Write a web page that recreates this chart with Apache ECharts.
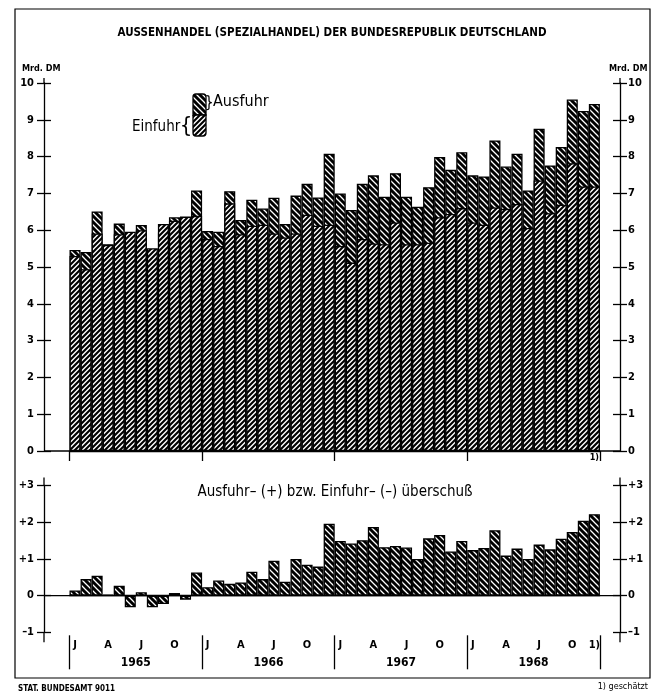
<!DOCTYPE html>
<html><head><meta charset="utf-8">
<script src="https://cdn.jsdelivr.net/npm/echarts@6/dist/echarts.min.js"></script>
<style>html,body{margin:0;padding:0;background:#fff}#c{width:662px;height:697px}</style>
</head><body><div id="c"></div>
<script>
// ---- data (Mrd. DM) ----
const years = ['1965', '1966', '1967', '1968'];
const monthLetters = ['J', 'F', 'M', 'A', 'M', 'J', 'J', 'A', 'S', 'O', 'N', 'D'];
const upperTicks = [0, 1, 2, 3, 4, 5, 6, 7, 8, 9, 10];
const lowerTicks = [-1, 0, 1, 2, 3];

const ausfuhr1965 = [5.46, 5.41, 6.51, 5.62, 6.18, 5.64, 6.14, 5.19, 5.94, 6.35, 6.26, 7.08];
const ausfuhr1966 = [5.98, 5.96, 7.06, 6.28, 6.83, 6.59, 6.88, 6.17, 6.94, 7.26, 6.89, 8.08];
const ausfuhr1967 = [7.00, 6.55, 7.26, 7.49, 6.91, 7.55, 6.91, 6.64, 7.17, 7.99, 7.64, 8.12];
const ausfuhr1968 = [7.49, 7.46, 8.44, 7.73, 8.08, 7.08, 8.76, 7.76, 8.26, 9.55, 9.24, 9.43];

const einfuhr1965 = [5.30, 4.94, 5.91, 5.60, 5.89, 5.96, 6.00, 5.51, 6.17, 6.26, 6.37, 6.39];
const einfuhr1966 = [5.76, 5.57, 6.73, 5.89, 6.12, 6.15, 5.91, 5.80, 5.91, 6.42, 6.12, 6.15];
const einfuhr1967 = [5.57, 5.12, 5.76, 5.64, 5.62, 6.21, 5.62, 5.62, 5.66, 6.35, 6.44, 6.60];
const einfuhr1968 = [6.21, 6.15, 6.62, 6.58, 6.71, 6.06, 7.35, 6.46, 6.69, 7.82, 7.19, 7.19];

const saldo1965 = [0.14, 0.45, 0.54, 0.02, 0.27, -0.32, 0.09, -0.32, -0.23, 0.07, -0.11, 0.63];
const saldo1966 = [0.23, 0.41, 0.32, 0.36, 0.65, 0.45, 0.95, 0.38, 1.00, 0.84, 0.79, 1.96];
const saldo1967 = [1.49, 1.42, 1.51, 1.87, 1.32, 1.35, 1.31, 1.00, 1.56, 1.65, 1.20, 1.49];
const saldo1968 = [1.24, 1.30, 1.78, 1.09, 1.28, 1.00, 1.39, 1.26, 1.55, 1.73, 2.04, 2.22];

// ---- derived ----
const categories = [];
years.forEach(y => monthLetters.forEach((m, i) => categories.push(y + '-' + (i + 1))));
const ausfuhr = [].concat(ausfuhr1965, ausfuhr1966, ausfuhr1967, ausfuhr1968);
const einfuhr = [].concat(einfuhr1965, einfuhr1966, einfuhr1967, einfuhr1968);
const saldo = [].concat(saldo1965, saldo1966, saldo1967, saldo1968);

const FONT = "'DejaVu Sans Condensed','DejaVu Sans',sans-serif";

function makePattern(bg, fg, dir, w, s) {
  const c = document.createElement('canvas'); c.width = c.height = s;
  const g = c.getContext('2d');
  g.fillStyle = bg; g.fillRect(0, 0, s, s);
  g.strokeStyle = fg; g.lineWidth = w; g.beginPath();
  if (dir === '/') {
    g.moveTo(0, s); g.lineTo(s, 0);
    g.moveTo(-s / 2, s / 2); g.lineTo(s / 2, -s / 2);
    g.moveTo(s / 2, s * 1.5); g.lineTo(s * 1.5, s / 2);
  } else {
    g.moveTo(0, 0); g.lineTo(s, s);
    g.moveTo(-s / 2, s / 2); g.lineTo(s / 2, s * 1.5);
    g.moveTo(s / 2, -s / 2); g.lineTo(s * 1.5, s / 2);
  }
  g.stroke();
  return { image: c, repeat: 'repeat' };
}
const lightPat = makePattern('#fff', '#000', '/', 2.1, 5);
const darkPat = makePattern('#000', '#fff', '\\', 1.3, 6);

// layout
const AX_L = 44, AX_R = 620, G_L = 69.5, G_R = 662 - 599.9;
const lineSt = { color: '#000', width: 1.3 };

function yAxes(grid, min, max, fmt) {
  const lab = { show: true, color: '#000', fontFamily: FONT, fontWeight: 'bold', fontSize: 11, formatter: fmt };
  const base = { type: 'value', gridIndex: grid, min: min, max: max, interval: 1, splitLine: { show: false } };
  return [
    Object.assign({}, base, { position: 'left', offset: G_L - AX_L, axisLine: { show: true, onZero: false, lineStyle: lineSt },
      axisTick: { show: true, length: 7, lineStyle: lineSt }, axisLabel: Object.assign({ margin: 10 }, lab) }),
    Object.assign({}, base, { position: 'left', offset: G_L - AX_L, axisLine: { show: false, onZero: false },
      axisTick: { show: true, inside: true, length: 7, lineStyle: lineSt }, axisLabel: { show: false } }),
    Object.assign({}, base, { position: 'right', offset: AX_R - (662 - G_R), axisLine: { show: true, onZero: false, lineStyle: lineSt },
      axisTick: { show: true, length: 7, lineStyle: lineSt }, axisLabel: Object.assign({ margin: 8 }, lab) }),
    Object.assign({}, base, { position: 'right', offset: AX_R - (662 - G_R), axisLine: { show: false, onZero: false },
      axisTick: { show: true, inside: true, length: 7, lineStyle: lineSt }, axisLabel: { show: false } })
  ];
}
const fmtLower = v => v > 0 ? '+' + v : (v < 0 ? '\u2013' + Math.abs(v) : '0');

const chart = echarts.init(document.getElementById('c'), null, { renderer: 'canvas' });
chart.setOption({
  animation: false,
  backgroundColor: '#fff',
  grid: [
    { left: G_L, right: G_R, top: 83, bottom: 697 - 451 },
    { left: G_L, right: G_R, top: 485.5, bottom: 697 - 632.3 }
  ],
  xAxis: [
    { type: 'category', gridIndex: 0, data: categories, boundaryGap: true,
      axisLine: { show: true, lineStyle: lineSt }, axisTick: { show: false },
      axisLabel: { show: true, interval: (i) => i === 47, formatter: () => '1)', margin: 2,
        color: '#000', fontFamily: FONT, fontSize: 9, fontWeight: 'bold' } },
    { type: 'category', gridIndex: 0, data: years, position: 'bottom', boundaryGap: true,
      axisLine: { show: false }, axisTick: { show: true, length: 10, lineStyle: lineSt, interval: 0 }, axisLabel: { show: false } },
    { type: 'category', gridIndex: 1, data: categories, boundaryGap: true,
      axisLine: { show: true, onZero: true, lineStyle: lineSt }, axisTick: { show: false }, axisLabel: { show: false } },
    { type: 'category', gridIndex: 1, data: categories, position: 'bottom', boundaryGap: true,
      axisLine: { show: false, onZero: false }, axisTick: { show: false },
      axisLabel: { show: true, interval: (i) => (i % 3 === 0) || i === 47, margin: 7,
        formatter: (v, i) => i === 47 ? '1)' : monthLetters[i % 12],
        color: '#000', fontFamily: FONT, fontSize: 11, fontWeight: 'bold' } },
    { type: 'category', gridIndex: 1, data: years, position: 'bottom', boundaryGap: true, offset: 3,
      axisLine: { show: false, onZero: false }, axisTick: { show: true, length: 34, interval: 0, lineStyle: lineSt },
      axisLabel: { show: true, margin: 22, color: '#000', fontFamily: FONT, fontSize: 12, fontWeight: 'bold' } }
  ],
  yAxis: [].concat(yAxes(0, 0, 10, v => String(v)), yAxes(1, -1, 3, fmtLower)),
  series: [
    { type: 'bar', name: 'Ausfuhr', xAxisIndex: 0, yAxisIndex: 0, data: ausfuhr, z: 2,
      barCategoryGap: '0%', barGap: '-100%',
      itemStyle: { color: darkPat, borderColor: '#000', borderWidth: 1.3 } },
    { type: 'bar', name: 'Einfuhr', xAxisIndex: 0, yAxisIndex: 0, data: einfuhr, z: 3,
      barCategoryGap: '0%', barGap: '-100%',
      itemStyle: { color: lightPat, borderColor: '#000', borderWidth: 1.3 } },
    { type: 'bar', name: 'Saldo', xAxisIndex: 2, yAxisIndex: 4, data: saldo, z: 2,
      barCategoryGap: '0%',
      itemStyle: { color: darkPat, borderColor: '#000', borderWidth: 1.3 } }
  ]
});

const y0u = chart.convertToPixel({ yAxisIndex: 0 }, 0);
const y10u = chart.convertToPixel({ yAxisIndex: 0 }, 10);
const y0l = chart.convertToPixel({ yAxisIndex: 4 }, 0);
const y3l = chart.convertToPixel({ yAxisIndex: 4 }, 3);
const ym1l = chart.convertToPixel({ yAxisIndex: 4 }, -1);

const ln = (x1, y1, x2, y2) => ({ type: 'line', shape: { x1, y1, x2, y2 }, style: { stroke: '#000', lineWidth: 1.3 }, z: 10 });
const tx = (x, y, text, o) => ({ type: 'text', x, y, z: 10, style: Object.assign({ text, fill: '#000', font: '12px ' + FONT, textAlign: 'left', textVerticalAlign: 'middle' }, o || {}) });

chart.setOption({
  graphic: [
    { type: 'rect', shape: { x: 15, y: 9, width: 635, height: 669 }, style: { fill: 'none', stroke: '#000', lineWidth: 1.2 }, z: 10 },
    tx(332, 33, 'AUSSENHANDEL (SPEZIALHANDEL) DER BUNDESREPUBLIK DEUTSCHLAND', { font: 'bold 11.5px ' + FONT, textAlign: 'center' }),
    tx(22, 69, 'Mrd. DM', { font: 'bold 9px ' + FONT }),
    tx(609, 69, 'Mrd. DM', { font: 'bold 9px ' + FONT }),
    // axis line extensions and baselines
    ln(AX_L, y10u - 5, AX_L, y10u), ln(AX_R, y10u - 5, AX_R, y10u),
    ln(AX_L, y0u, AX_R, y0u),
    ln(AX_L, y3l - 8, AX_L, y3l), ln(AX_R, y3l - 8, AX_R, y3l),
    ln(AX_L, ym1l, AX_L, ym1l + 10), ln(AX_R, ym1l, AX_R, ym1l + 10),
    ln(AX_L, y0l, AX_R, y0l),
    // legend
    { type: 'rect', shape: { x: 193, y: 94, width: 13, height: 21, r: [3, 3, 0, 0] }, style: { fill: darkPat, stroke: '#000', lineWidth: 1.3 }, z: 10 },
    { type: 'rect', shape: { x: 193, y: 115, width: 13, height: 21, r: [0, 0, 3, 3] }, style: { fill: lightPat, stroke: '#000', lineWidth: 1.3 }, z: 10 },
    tx(132, 127, 'Einfuhr', { font: '15px ' + FONT }),
    tx(186, 126, '{', { font: '22px ' + FONT, textAlign: 'center' }),
    tx(209, 103, '}', { font: '16px ' + FONT, textAlign: 'center' }),
    tx(213, 102, 'Ausfuhr', { font: '16px ' + FONT }),
    // lower subtitle
    tx(335, 492, 'Ausfuhr\u2013 (+) bzw. Einfuhr\u2013 (\u2013) überschuß', { font: '15px ' + FONT, textAlign: 'center' }),
    // footer
    tx(18, 689, 'STAT. BUNDESAMT 9011', { font: 'bold 8px ' + FONT }),
    tx(648, 687, '1) geschätzt', { font: '9px ' + FONT, textAlign: 'right' })
  ]
});
</script>
</body></html>
